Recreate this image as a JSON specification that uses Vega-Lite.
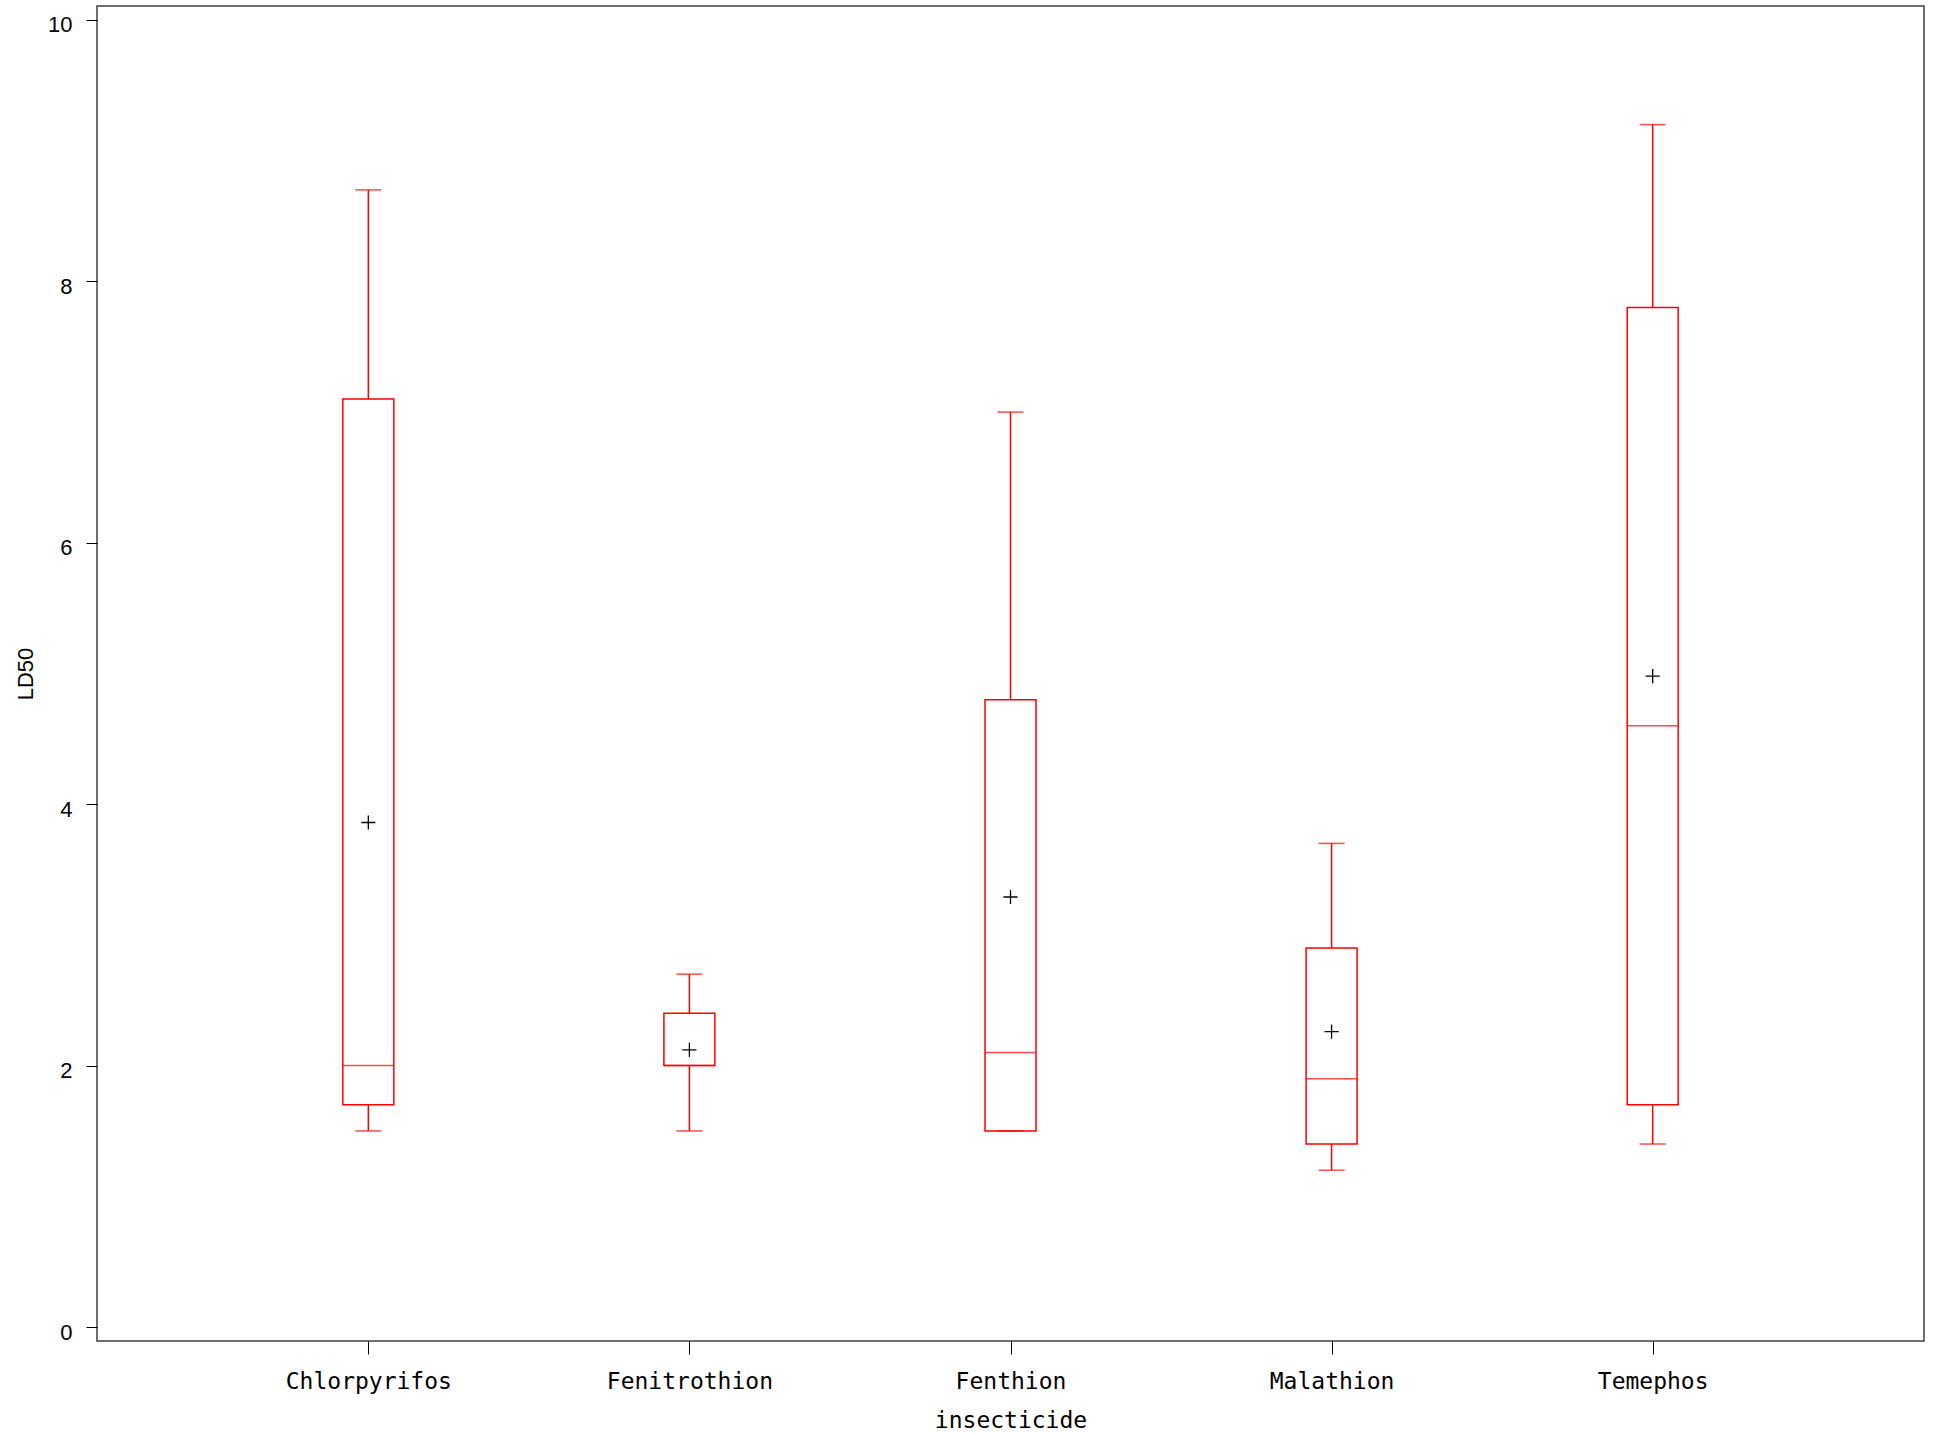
{
  "$schema": "https://vega.github.io/schema/vega-lite/v6.json",
  "width": 1827,
  "height": 1335,
  "autosize": {"type": "none"},
  "padding": {"left": 97, "top": 6, "right": 12, "bottom": 93},
  "background": "white",
  "config": {"view": {"stroke": "#404040", "strokeWidth": 1.5}},
  "data": {
    "values": [
      {"insecticide": "Chlorpyrifos", "min": 1.5, "q1": 1.7, "median": 2.0, "q3": 7.1, "max": 8.7, "mean": 3.86},
      {"insecticide": "Fenitrothion", "min": 1.5, "q1": 2.0, "median": 2.0, "q3": 2.4, "max": 2.7, "mean": 2.12},
      {"insecticide": "Fenthion", "min": 1.5, "q1": 1.5, "median": 2.1, "q3": 4.8, "max": 7.0, "mean": 3.29},
      {"insecticide": "Malathion", "min": 1.2, "q1": 1.4, "median": 1.9, "q3": 2.9, "max": 3.7, "mean": 2.26},
      {"insecticide": "Temephos", "min": 1.4, "q1": 1.7, "median": 4.6, "q3": 7.8, "max": 9.2, "mean": 4.98}
    ]
  },
  "encoding": {
    "x": {
      "field": "insecticide",
      "type": "nominal",
      "sort": null,
      "scale": {"type": "point", "padding": 0.845},
      "axis": {
        "title": "insecticide",
        "domain": false,
        "grid": false,
        "ticks": true,
        "tickSize": 13,
        "tickColor": "#000000",
        "tickWidth": 1,
        "labelAngle": 0,
        "labelFont": "DejaVu Sans Mono",
        "labelFontSize": 23,
        "labelColor": "#000000",
        "labelBaseline": "alphabetic",
        "labelPadding": 34,
        "titleFont": "DejaVu Sans Mono",
        "titleFontSize": 23,
        "titleFontWeight": "normal",
        "titleColor": "#000000",
        "titleBaseline": "alphabetic",
        "titleY": 86
      }
    }
  },
  "layer": [
    {
      "mark": {"type": "rule", "color": "#ff0000", "strokeWidth": 1.5},
      "encoding": {
        "y": {
          "field": "min",
          "type": "quantitative",
          "scale": {"domain": [-0.107, 10.107], "nice": false, "zero": false},
          "axis": {
            "title": "LD50",
            "values": [0, 2, 4, 6, 8, 10],
            "format": "d",
            "domain": false,
            "grid": false,
            "tickSize": 11,
            "tickColor": "#000000",
            "tickWidth": 1,
            "labelFont": "Liberation Sans",
            "labelFontSize": 22,
            "labelColor": "#000000",
            "labelBaseline": "alphabetic",
            "labelOffset": 12,
            "labelPadding": 14,
            "titleFont": "Liberation Sans",
            "titleFontSize": 22,
            "titleFontWeight": "normal",
            "titleColor": "#000000",
            "titleBaseline": "alphabetic",
            "titleX": -65
          }
        },
        "y2": {"field": "q1"}
      }
    },
    {
      "mark": {"type": "rule", "color": "#ff0000", "strokeWidth": 1.5},
      "encoding": {
        "y": {"field": "q3", "type": "quantitative"},
        "y2": {"field": "max"}
      }
    },
    {
      "mark": {"type": "bar", "width": 51, "fill": "white", "fillOpacity": 0, "stroke": "#ff0000", "strokeWidth": 1.5},
      "encoding": {
        "y": {"field": "q1", "type": "quantitative"},
        "y2": {"field": "q3"}
      }
    },
    {
      "mark": {"type": "tick", "color": "#ff0000", "size": 51, "thickness": 1.5},
      "encoding": {"y": {"field": "median", "type": "quantitative"}}
    },
    {
      "mark": {"type": "tick", "color": "#ff0000", "size": 26, "thickness": 1.5},
      "encoding": {"y": {"field": "min", "type": "quantitative"}}
    },
    {
      "mark": {"type": "tick", "color": "#ff0000", "size": 26, "thickness": 1.5},
      "encoding": {"y": {"field": "max", "type": "quantitative"}}
    },
    {
      "mark": {"type": "point", "shape": "M-1,0H1M0,-1V1", "size": 200, "filled": false, "stroke": "#000000", "strokeWidth": 1.3, "opacity": 1},
      "encoding": {"y": {"field": "mean", "type": "quantitative"}}
    }
  ]
}
